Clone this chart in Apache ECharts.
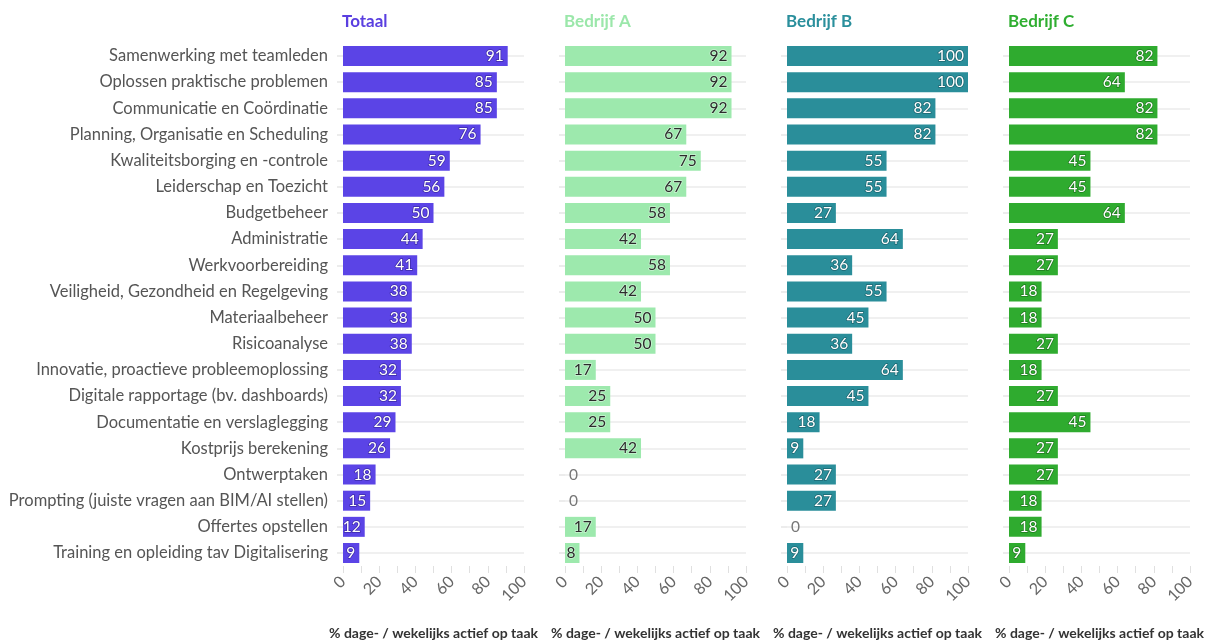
<!DOCTYPE html>
<html>
<head>
<meta charset="utf-8">
<script src="https://cdn.jsdelivr.net/npm/echarts@6/dist/echarts.min.js"></script>
<style>
  html, body { margin: 0; padding: 0; background: #fff; }
  #chart { width: 1208px; height: 643px; }
</style>
</head>
<body>
<div id="chart"></div>
<script>
// Taken (rows, top to bottom)
const categories = [
  'Samenwerking met teamleden',
  'Oplossen praktische problemen',
  'Communicatie en Coördinatie',
  'Planning, Organisatie en Scheduling',
  'Kwaliteitsborging en -controle',
  'Leiderschap en Toezicht',
  'Budgetbeheer',
  'Administratie',
  'Werkvoorbereiding',
  'Veiligheid, Gezondheid en Regelgeving',
  'Materiaalbeheer',
  'Risicoanalyse',
  'Innovatie, proactieve probleemoplossing',
  'Digitale rapportage (bv. dashboards)',
  'Documentatie en verslaglegging',
  'Kostprijs berekening',
  'Ontwerptaken',
  'Prompting (juiste vragen aan BIM/AI stellen)',
  'Offertes opstellen',
  'Training en opleiding tav Digitalisering'
];

// % dage- / wekelijks actief op taak
const totaal   = [91, 85, 85, 76, 59, 56, 50, 44, 41, 38, 38, 38, 32, 32, 29, 26, 18, 15, 12, 9];
const bedrijfA = [92, 92, 92, 67, 75, 67, 58, 42, 58, 42, 50, 50, 17, 25, 25, 42, 0, 0, 17, 8];
const bedrijfB = [100, 100, 82, 82, 55, 55, 27, 64, 36, 55, 45, 36, 64, 45, 18, 9, 27, 27, 0, 9];
const bedrijfC = [82, 64, 82, 82, 45, 45, 64, 27, 27, 18, 18, 27, 18, 27, 45, 27, 27, 18, 18, 9];

const panelTitles = ['Totaal', 'Bedrijf A', 'Bedrijf B', 'Bedrijf C'];
const xTicks = [0, 20, 40, 60, 80, 100];
const axisTitle = '% dage- / wekelijks actief op taak';

const FONT = 'Lato, "Open Sans", sans-serif';

const panels = [
  { values: totaal,   bar: '#5b44e6', title: '#5a3fe0', text: '#ffffff', halo: '#3d2aa8' },
  { values: bedrijfA, bar: '#9de9ad', title: '#9be7aa', text: '#2b2b2b', halo: '#c9f3d2' },
  { values: bedrijfB, bar: '#2a8e9a', title: '#2a8f9c', text: '#ffffff', halo: '#1c6670' },
  { values: bedrijfC, bar: '#2fab2f', title: '#2fae31', text: '#ffffff', halo: '#1f7a1f' }
];

const gridLefts = [343, 565, 787, 1009];
const gridWidth = 181;

const grids = [], xAxes = [], yAxes = [], series = [], titles = [];

panels.forEach((p, i) => {
  grids.push({
    left: gridLefts[i], width: gridWidth, top: 56, bottom: 90,
    containLabel: false, outerBoundsMode: 'none'
  });

  titles.push({
    text: panelTitles[i],
    left: gridLefts[i] - 6,
    top: 8,
    textStyle: { fontFamily: FONT, fontSize: 17, fontWeight: 'bold', color: p.title }
  });

  xAxes.push({
    type: 'value',
    gridIndex: i,
    min: xTicks[0],
    max: xTicks[xTicks.length - 1],
    interval: xTicks[1] - xTicks[0],
    offset: 13,
    axisLine: { show: false },
    axisTick: { show: true, length: 7, lineStyle: { color: '#e0e0e0', width: 1 } },
    minorTick: { show: true, splitNumber: 2, length: 7, lineStyle: { color: '#e0e0e0', width: 1 } },
    splitLine: { show: false },
    axisLabel: { rotate: 45, margin: 13, fontFamily: FONT, fontSize: 16, color: '#666' },
    name: axisTitle,
    nameLocation: 'middle',
    nameGap: 60,
    nameTextStyle: { fontFamily: FONT, fontSize: 14, fontWeight: 'bold', color: '#333' }
  });

  yAxes.push({
    type: 'category',
    gridIndex: i,
    data: categories,
    inverse: true,
    boundaryGap: false,
    axisLine: { show: false },
    axisTick: { show: true, length: 6, lineStyle: { color: '#e6e6e6', width: 1.5 } },
    splitLine: { show: true, lineStyle: { color: '#ebebeb', width: 1.5 } },
    axisLabel: {
      show: i === 0,
      margin: 15,
      fontFamily: FONT,
      fontSize: 16.5,
      color: '#555'
    }
  });

  series.push({
    type: 'bar',
    xAxisIndex: i,
    yAxisIndex: i,
    barWidth: 20,
    clip: false,
    itemStyle: { color: p.bar },
    label: {
      show: true,
      position: 'insideRight',
      distance: 4,
      fontFamily: FONT,
      fontSize: 15.5,
      color: p.text,
      textBorderColor: p.halo,
      textBorderWidth: 1.5
    },
    data: p.values.map(v => v === 0
      ? { value: v, label: { position: 'right', distance: 4, color: '#777', textBorderWidth: 0 } }
      : v)
  });
});

const chart = echarts.init(document.getElementById('chart'), null, { renderer: 'canvas' });
chart.setOption({
  animation: false,
  backgroundColor: '#fff',
  title: titles,
  grid: grids,
  xAxis: xAxes,
  yAxis: yAxes,
  series: series
});
</script>
</body>
</html>
